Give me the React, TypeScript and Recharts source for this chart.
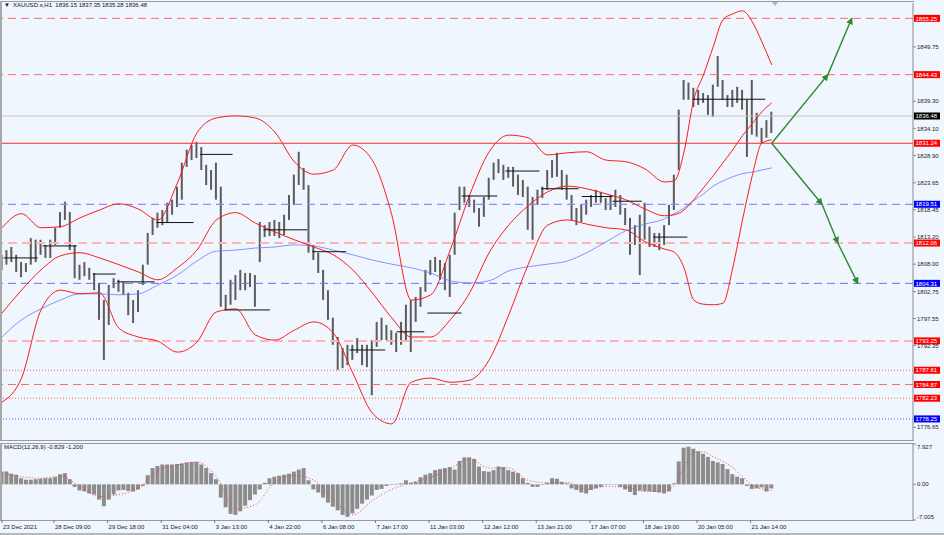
// XAUUSD H1: candles, Bollinger bands, slow MA, levels and a MACD panel
import { Bar, ComposedChart, Line, ReferenceLine, XAxis, YAxis } from "recharts";

const FONT = '"Liberation Sans", Arial, sans-serif';
const BG = "#f0f6fd";

// one candle for every 3 H1 bars
const STEP = 3;

const candleHigh = [
  1809.8, 1810.7, 1811.3, 1809.8, 1808.4, 1808.2, 1813.0, 1812.7, 1812.7, 1811.7,
  1812.7, 1815.0, 1818.0, 1820.0, 1818.0, 1811.7, 1807.9, 1808.4, 1807.3, 1806.3,
  1804.4, 1801.1, 1804.0, 1805.3, 1805.0, 1804.6, 1802.5, 1801.1, 1803.0, 1807.9,
  1814.0, 1816.9, 1817.9, 1818.4, 1819.8, 1820.4, 1822.9, 1827.5, 1830.0, 1830.9,
  1831.5, 1830.5, 1827.1, 1826.1, 1827.5, 1822.9, 1802.1, 1805.0, 1805.9, 1806.9,
  1806.3, 1806.3, 1805.9, 1816.1, 1815.5, 1816.1, 1816.5, 1816.1, 1817.5, 1821.3,
  1825.2, 1829.6, 1826.5, 1823.2, 1811.7, 1810.2, 1806.9, 1803.0, 1797.7, 1794.0,
  1791.9, 1792.5, 1792.5, 1793.8, 1792.5, 1792.5, 1793.4, 1796.9, 1797.7, 1796.3,
  1795.3, 1794.8, 1796.9, 1800.2, 1801.1, 1801.7, 1803.6, 1806.9, 1808.8, 1809.4,
  1808.8, 1808.2, 1809.8, 1817.9, 1822.9, 1822.9, 1821.3, 1820.4, 1818.8, 1820.9,
  1824.6, 1827.5, 1828.2, 1827.1, 1826.7, 1826.7, 1825.2, 1824.2, 1822.9, 1820.9,
  1822.3, 1822.9, 1826.1, 1828.0, 1829.4, 1826.1, 1825.2, 1821.3, 1818.8, 1819.4,
  1820.4, 1821.3, 1822.3, 1821.9, 1820.7, 1821.3, 1822.3, 1821.3, 1818.8, 1816.9,
  1815.5, 1817.5, 1819.8, 1815.2, 1814.0, 1814.0, 1815.5, 1819.4, 1825.2, 1837.7,
  1843.4, 1842.9, 1841.9, 1841.5, 1840.9, 1840.5, 1842.5, 1848.0, 1843.4, 1840.5,
  1841.5, 1842.1, 1841.5, 1839.6, 1843.4, 1837.1, 1834.2, 1835.7, 1837.3,
];

const candleLow = [
  1806.9, 1807.9, 1808.4, 1806.5, 1805.5, 1806.5, 1807.9, 1808.4, 1809.8, 1809.2,
  1809.2, 1811.7, 1815.0, 1816.5, 1810.7, 1805.3, 1805.0, 1805.7, 1805.0, 1803.0,
  1797.3, 1789.6, 1796.3, 1803.4, 1802.7, 1802.1, 1798.2, 1796.7, 1798.8, 1804.0,
  1807.9, 1813.6, 1815.0, 1815.5, 1816.1, 1817.5, 1819.0, 1820.4, 1826.7, 1828.0,
  1828.4, 1826.1, 1823.2, 1822.3, 1820.4, 1799.8, 1799.2, 1800.2, 1801.1, 1803.0,
  1803.0, 1803.6, 1799.8, 1808.4, 1813.2, 1813.4, 1813.4, 1813.0, 1813.6, 1816.5,
  1819.4, 1823.2, 1822.3, 1810.2, 1808.8, 1806.3, 1801.1, 1797.3, 1792.5, 1787.7,
  1788.0, 1788.6, 1789.6, 1790.9, 1788.6, 1788.2, 1782.8, 1792.1, 1793.4, 1793.4,
  1792.5, 1791.1, 1792.5, 1793.4, 1791.1, 1796.9, 1799.8, 1802.7, 1805.9, 1806.5,
  1805.0, 1803.0, 1801.7, 1809.8, 1818.4, 1819.8, 1819.0, 1817.9, 1815.2, 1817.1,
  1820.4, 1824.2, 1825.5, 1824.2, 1824.6, 1822.9, 1821.3, 1820.9, 1814.6, 1812.7,
  1819.4, 1820.7, 1822.3, 1824.6, 1824.8, 1822.3, 1820.4, 1816.5, 1815.5, 1816.1,
  1817.5, 1819.0, 1819.8, 1819.8, 1818.4, 1818.4, 1819.0, 1817.5, 1815.5, 1809.8,
  1811.7, 1805.9, 1812.7, 1811.3, 1811.3, 1810.7, 1811.7, 1815.5, 1818.4, 1826.1,
  1839.6, 1839.6, 1838.2, 1838.6, 1839.0, 1836.7, 1836.3, 1842.1, 1839.6, 1838.2,
  1838.2, 1839.0, 1837.7, 1828.6, 1832.9, 1832.5, 1831.3, 1832.3, 1833.2,
];

const macdHist = [
  2.5, 2.5, 2.1, 1.9, 1.2, 0.9, 0.9, 1.0, 1.1, 1.2,
  1.2, 1.4, 2.0, 2.2, 1.0, -0.5, -1.2, -1.4, -1.8, -2.0,
  -3.0, -4.3, -3.0, -2.0, -1.2, -1.1, -1.3, -1.4, -1.0, -0.3,
  1.8, 3.2, 3.6, 3.9, 3.9, 3.9, 4.0, 4.1, 4.3, 4.4,
  4.4, 3.9, 3.2, 2.2, 1.0, -2.6, -4.5, -5.8, -6.0, -5.3,
  -4.2, -3.1, -2.0, -1.0, 0.3, 1.2, 1.5, 1.7, 1.9, 2.1,
  2.5, 2.9, 3.2, 0.8, -1.0, -1.6, -2.6, -3.6, -4.4, -5.1,
  -6.0, -6.4, -5.7, -4.8, -3.8, -3.0, -2.2, -1.1, -0.9, -0.3,
  -0.1, 0.1, 0.2, 0.8, 0.3, 0.5, 1.4, 1.9, 2.2, 2.8,
  3.0, 3.2, 3.4, 2.9, 4.6, 5.3, 5.3, 5.0, 3.5, 2.6,
  2.5, 2.8, 3.5, 3.4, 2.8, 2.5, 2.2, 1.2, 0.3, -0.5,
  -0.5, -0.1, 0.3, 1.2, 1.1, 0.5, 0.2, -0.8, -1.1, -1.6,
  -1.8, -1.1, -0.8, -0.5, -0.1, -0.1, -0.1, -0.5, -1.0, -1.5,
  -2.1, -1.2, -1.3, -1.4, -1.5, -1.6, -1.8, -1.4, 0.2, 4.5,
  7.2, 7.4, 7.0, 6.5, 6.0, 5.4, 4.6, 4.3, 4.0, 3.0,
  2.0, 1.5, 1.2, -0.3, -0.9, -0.8, -0.6, -1.4, -0.8,
];

// smooth lines, read at these candle numbers
const lineIdx = [
  0, 4, 8, 12, 16, 20, 24, 28, 32, 36, 40, 44, 48, 52, 56, 60, 64, 68, 72, 76,
  80, 84, 88, 92, 96, 100, 104, 108, 112, 116, 120, 124, 128, 132, 136, 138,
  140, 142, 144, 146, 148, 150, 152, 154, 156, 158,
];

const bbUpper = [
  1815.0, 1817.7, 1815.0, 1815.2, 1816.9, 1818.4, 1819.6, 1818.6, 1816.5, 1823.6,
  1833.2, 1836.1, 1836.5, 1836.1, 1833.4, 1827.7, 1825.3, 1826.1, 1830.9, 1828.0,
  1817.5, 1801.1, 1802.1, 1810.7, 1821.3, 1829.6, 1832.8, 1832.3, 1829.0, 1829.4,
  1829.6, 1828.0, 1827.7, 1826.3, 1823.8, 1824.0, 1829.6, 1839.6, 1844.4, 1849.8,
  1855.0, 1856.1, 1856.7, 1854.6, 1850.7, 1846.3,
];

const bbMiddle = [
  1798.6, 1803.0, 1806.9, 1809.6, 1810.2, 1809.2, 1807.9, 1806.5, 1805.0, 1807.3,
  1810.7, 1816.5, 1817.9, 1815.9, 1814.2, 1812.7, 1811.3, 1809.8, 1806.9, 1802.5,
  1797.7, 1794.0, 1794.0, 1797.3, 1802.5, 1810.2, 1815.5, 1819.2, 1821.9, 1823.0,
  1822.5, 1821.5, 1820.4, 1818.6, 1817.3, 1817.5, 1818.4, 1820.4, 1822.7, 1825.0,
  1827.5, 1830.0, 1832.7, 1835.0, 1837.3, 1839.0,
];

const bbLower = [
  1781.5, 1786.1, 1799.2, 1803.0, 1802.3, 1802.5, 1795.7, 1794.0, 1793.2, 1791.1,
  1793.0, 1798.8, 1799.4, 1794.4, 1793.4, 1795.3, 1796.9, 1794.8, 1787.1, 1779.4,
  1777.3, 1785.3, 1786.1, 1785.3, 1785.7, 1789.6, 1798.2, 1807.9, 1815.5, 1816.5,
  1815.7, 1815.0, 1814.6, 1812.3, 1810.9, 1810.3, 1807.3, 1801.1, 1800.3, 1800.2,
  1800.5, 1807.3, 1816.5, 1825.0, 1831.3, 1831.9,
];

const maSlow = [
  1794.0, 1797.3, 1799.4, 1801.1, 1802.3, 1802.3, 1802.1, 1802.3, 1804.0, 1805.9,
  1808.6, 1810.5, 1810.7, 1811.1, 1811.3, 1811.7, 1811.5, 1810.7, 1809.8, 1808.8,
  1808.0, 1807.3, 1806.3, 1804.8, 1804.4, 1804.8, 1806.7, 1807.5, 1808.0, 1808.6,
  1810.2, 1812.3, 1814.4, 1815.7, 1816.7, 1817.7, 1818.8, 1820.2, 1821.5, 1823.0,
  1824.0, 1824.8, 1825.4, 1825.7, 1826.1, 1826.5,
];

const macdSignal = [
  2.2, 1.5, 1.2, 1.6, -0.4, -2.4, -2.0, -0.8, 2.8, 3.8,
  4.4, 1.5, -4.8, -4.0, 0.5, 1.8, 0.8, -2.9, -6.0, -3.2,
  -1.0, 0.3, 1.4, 3.1, 5.0, 3.2, 3.2, 0.8, 0.3, 0.4,
  -1.0, -0.4, -0.6, -1.4, -1.2, -0.2, 3.5, 6.3, 6.4, 5.4,
  4.5, 3.3, 1.5, -0.1, -0.9, -1.2,
];

// horizontal levels on the price panel
const levelPrices = [
  1855.25, 1844.43, 1836.48, 1831.24, 1819.51, 1812.06,
  1804.31, 1793.25, 1787.61, 1784.87, 1782.23, 1778.25,
];
const levelStyles = [
  { stroke: "#ff6b6b", dash: "8 5", width: 1, badge: "#ff0000" },
  { stroke: "#ff6b6b", dash: "8 5", width: 1, badge: "#ff0000" },
  { stroke: "#c4c4c4", dash: undefined, width: 1, badge: "#000000" },
  { stroke: "#ff2a2a", dash: undefined, width: 1.2, badge: "#ff0000" },
  { stroke: "#8c8cff", dash: "8 5", width: 1.3, badge: "#0000ff" },
  { stroke: "#ffb4b4", dash: "9 5", width: 2, badge: "#ff0000" },
  { stroke: "#6f6fe8", dash: "8 5", width: 1, badge: "#0000ff" },
  { stroke: "#ffb4b4", dash: "9 5", width: 2, badge: "#ff0000" },
  { stroke: "#ff5a5a", dash: "1 2", width: 1, badge: "#ff0000" },
  { stroke: "#ff6b6b", dash: "8 5", width: 1, badge: "#ff0000" },
  { stroke: "#ff5a5a", dash: "1 2", width: 1, badge: "#ff0000" },
  { stroke: "#5a5aff", dash: "1 2", width: 1, badge: "#0000ff" },
];

const priceTicks = [
  1849.75, 1839.3, 1834.1, 1828.9, 1823.65, 1818.45, 1813.2,
  1808.0, 1802.75, 1797.55, 1792.35, 1776.65,
];

// short black marks: start bar, end bar, price
const markStart = [1, 25, 56, 71, 95, 122, 137, 161, 191, 214, 243, 262, 283, 310, 332, 357, 376, 401, 425];
const markEnd = [22, 46, 70, 94, 118, 142, 165, 188, 212, 236, 260, 283, 305, 331, 355, 376, 394, 422, 470];
const markPrice = [
  1809.2, 1811.5, 1806.1, 1804.6, 1816.0, 1829.1, 1799.2, 1814.6, 1810.4, 1791.5,
  1795.0, 1798.6, 1821.1, 1825.9, 1822.5, 1821.0, 1820.1, 1813.2, 1839.7,
];

// projection arrows
const upBars = [474, 508.6, 523.3];
const upPrices = [1831.24, 1844.43, 1855.25];
const downBars = [474, 505, 514.7, 527];
const downPrices = [1831.24, 1819.51, 1812.06, 1804.31];

const dateTicks = [0, 32, 65, 98, 131, 164, 197, 230, 263, 296, 329, 362, 395, 428, 461];
const dateLabels = [
  "23 Dec 2021", "28 Dec 09:00", "29 Dec 18:00", "31 Dec 04:00", "3 Jan 13:00",
  "4 Jan 22:00", "6 Jan 08:00", "7 Jan 17:00", "11 Jan 03:00", "12 Jan 12:00",
  "13 Jan 21:00", "17 Jan 07:00", "18 Jan 19:00", "20 Jan 05:00", "21 Jan 14:00",
];

const X_DOMAIN = [0, 561];

const rows: any[] = candleHigh.map((hi, i) => ({
  t: i * STEP,
  hi,
  lo: candleLow[i],
  hist: macdHist[i],
}));
lineIdx.forEach((c, k) => {
  Object.assign(rows[c], {
    up: bbUpper[k],
    mid: bbMiddle[k],
    dn: bbLower[k],
    ma: maSlow[k],
    sig: macdSignal[k],
  });
});

// coloured price box on the right axis
const badge = (text: string, fill: string) => (props: any) => {
  const vb = props.viewBox || {};
  const x = vb.x + vb.width + 1;
  const y = vb.y;
  return (
    <g>
      <rect x={x} y={y - 3.5} width={26} height={7} fill={fill} />
      <text x={x + 1.5} y={y + 2.2} fontSize={6} fontFamily={FONT} fill="#ffffff">
        {text}
      </text>
    </g>
  );
};

const DateTick = (props: any) => {
  const k = dateTicks.indexOf(props.payload.value);
  return (
    <text x={props.x + 1} y={props.y + 6} fontSize={6} fontFamily={FONT} fill="#222" textAnchor="start">
      {dateLabels[k]}
    </text>
  );
};

const MacdTick = (props: any) => {
  const v = props.payload.value;
  const label = v > 0 ? "7.927" : v < 0 ? "-7.005" : "0.00";
  const dy = v > 0 ? 5 : v < 0 ? -1 : 2;
  return (
    <text x={props.x} y={props.y + dy} fontSize={6} fontFamily={FONT} fill="#222" textAnchor="start">
      {label}
    </text>
  );
};

const ARROW = "#2f8a2f";

export default function App() {
  return (
    <div style={{ position: "absolute", left: 0, top: 0, width: 944, height: 535, background: BG, overflow: "hidden", fontFamily: FONT }}>
      {/* panel frames */}
      <div style={{ position: "absolute", left: 0, top: 1, width: 914, height: 440, boxSizing: "border-box", borderTop: "1px solid #9a9a9a", borderBottom: "1px solid #9a9a9a", borderLeft: "2px solid #a8a8a8" }} />
      <div style={{ position: "absolute", left: 0, top: 443, width: 914, height: 78, boxSizing: "border-box", borderTop: "1px solid #9a9a9a", borderBottom: "1px solid #9a9a9a", borderLeft: "2px solid #a8a8a8" }} />
      <div style={{ position: "absolute", left: 0, top: 533, width: 944, height: 2, background: "#b8b8b8" }} />
      {/* chart shift marker */}
      <div style={{ position: "absolute", left: 772, top: 2, width: 0, height: 0, borderLeft: "3px solid transparent", borderRight: "3px solid transparent", borderTop: "4px solid #b0b0b0" }} />

      <div style={{ position: "absolute", left: 0, top: 0 }}>
        <ComposedChart width={944} height={442} data={rows} margin={{ top: 3, right: 0, bottom: 2, left: 2 }}>
          <defs>
            <marker id="arrowHead" viewBox="0 0 6 6" refX="5" refY="3" markerWidth="5" markerHeight="5" orient="auto">
              <path d="M0,0 L6,3 L0,6 z" fill={ARROW} />
            </marker>
          </defs>
          <XAxis dataKey="t" type="number" domain={X_DOMAIN} hide allowDataOverflow />
          <YAxis
            orientation="right"
            width={31}
            domain={[1774.2, 1858.2]}
            allowDataOverflow
            ticks={priceTicks}
            interval={0}
            tickFormatter={(v) => Number(v).toFixed(2)}
            tick={{ fontSize: 6, fontFamily: FONT, fill: "#222" }}
            tickSize={3}
            tickMargin={1}
            stroke="#8a8a8a"
          />
          {levelPrices.map((p, k) => (
            <ReferenceLine
              key={"lv" + k}
              y={p}
              stroke={levelStyles[k].stroke}
              strokeDasharray={levelStyles[k].dash}
              strokeWidth={levelStyles[k].width}
              label={badge(p.toFixed(2), levelStyles[k].badge)}
            />
          ))}
          <Line dataKey="ma" stroke="#7474ff" strokeWidth={0.8} dot={false} connectNulls type="monotone" isAnimationActive={false} />
          <Line dataKey="up" stroke="#ff1a1a" strokeWidth={1} dot={false} connectNulls type="monotone" isAnimationActive={false} />
          <Line dataKey="mid" stroke="#ff1a1a" strokeWidth={1} dot={false} connectNulls type="monotone" isAnimationActive={false} />
          <Line dataKey="dn" stroke="#ff1a1a" strokeWidth={1} dot={false} connectNulls type="monotone" isAnimationActive={false} />
          <Bar dataKey={(d: any) => [d.lo, d.hi]} fill="#5c5c5c" barSize={2} isAnimationActive={false} />
          {markStart.map((s, k) => (
            <ReferenceLine
              key={"mk" + k}
              segment={[{ x: s, y: markPrice[k] }, { x: markEnd[k], y: markPrice[k] }]}
              stroke="#111"
              strokeWidth={1}
            />
          ))}
          {upBars.slice(1).map((b, k) => (
            <ReferenceLine
              key={"up" + k}
              segment={[{ x: upBars[k], y: upPrices[k] }, { x: b, y: upPrices[k + 1] }]}
              stroke={ARROW}
              strokeWidth={1.4}
              markerEnd="url(#arrowHead)"
            />
          ))}
          {downBars.slice(1).map((b, k) => (
            <ReferenceLine
              key={"dn" + k}
              segment={[{ x: downBars[k], y: downPrices[k] }, { x: b, y: downPrices[k + 1] }]}
              stroke={ARROW}
              strokeWidth={1.4}
              markerEnd="url(#arrowHead)"
            />
          ))}
        </ComposedChart>
      </div>

      <div style={{ position: "absolute", left: 0, top: 442 }}>
        <ComposedChart width={944} height={93} data={rows} margin={{ top: 2, right: 0, bottom: 0, left: 2 }}>
          <XAxis
            dataKey="t"
            type="number"
            domain={X_DOMAIN}
            allowDataOverflow
            ticks={dateTicks}
            interval={0}
            height={15}
            tick={<DateTick />}
            tickSize={3}
            tickMargin={0}
            axisLine={false}
            stroke="#777"
          />
          <YAxis
            orientation="right"
            width={31}
            domain={[-7.005, 7.927]}
            allowDataOverflow
            ticks={[7.927, 0, -7.005]}
            interval={0}
            tick={<MacdTick />}
            tickSize={3}
            tickMargin={1}
            stroke="#8a8a8a"
          />
          <Bar dataKey="hist" fill="#8c8c8c" barSize={4} isAnimationActive={false} />
          <Line dataKey="sig" stroke="#ff3b3b" strokeWidth={1} strokeDasharray="1 2" dot={false} connectNulls type="monotone" isAnimationActive={false} />
        </ComposedChart>
      </div>

      <div style={{ position: "absolute", left: 4, top: 2, fontSize: 6, color: "#111", whiteSpace: "nowrap" }}>
        <span style={{ fontSize: 6, marginRight: 3 }}>▼</span>XAUUSD.s,H1&nbsp;&nbsp;1836.15 1837.35 1835.28 1836.48
      </div>
      <div style={{ position: "absolute", left: 4, top: 444, fontSize: 6, color: "#111", whiteSpace: "nowrap" }}>
        MACD(12,26,9) -0.829 -1.200
      </div>
    </div>
  );
}
